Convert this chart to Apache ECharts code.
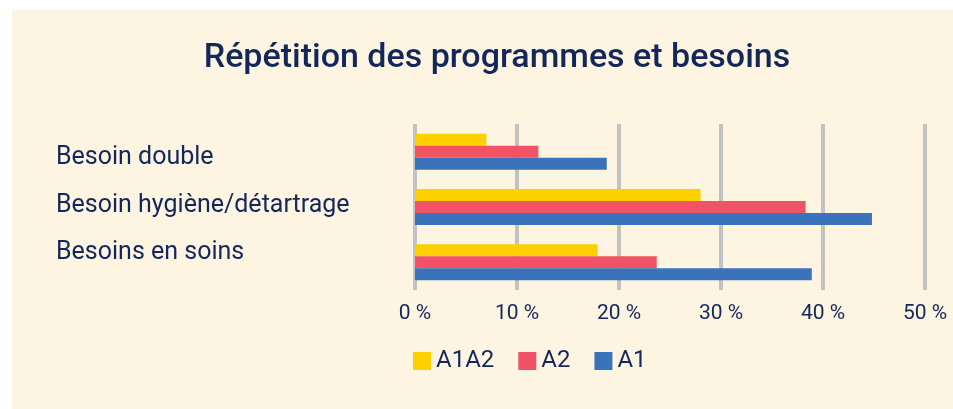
<!DOCTYPE html>
<html lang="fr">
<head>
    <meta charset="utf-8">
    <title>Répétition des programmes et besoins</title>
    <script src="https://cdn.jsdelivr.net/npm/echarts@6/dist/echarts.min.js"></script>
</head>
<body style="margin:0;background:#ffffff;">
    <div id="main" style="position:absolute;left:12px;top:10px;width:941px;height:399px;"></div>
    <script>
        // données (%)
        const categories = ['Besoin double', 'Besoin hygiène/détartrage', 'Besoins en soins'];
        const serieA1A2 = [7.0, 28.0, 17.9];
        const serieA2 = [12.1, 38.3, 23.7];
        const serieA1 = [18.8, 44.8, 38.9];
        const xTicks = [0, 10, 20, 30, 40, 50];

        const navy = '#13275a';
        const font = 'Roboto';

        const chart = echarts.init(document.getElementById('main'));

        const option = {
            backgroundColor: '#fef4e2',
            textStyle: { fontFamily: font },
            title: {
                text: 'Répétition des programmes et besoins',
                left: 480,
                textAlign: 'center',
                top: 26,
                textStyle: { color: navy, fontSize: 34, fontWeight: 500, fontFamily: font }
            },
            legend: {
                data: ['A1A2', 'A2', 'A1'],
                left: 396,
                top: 334,
                icon: 'rect',
                itemWidth: 18,
                itemHeight: 18,
                itemGap: 24,
                textStyle: { color: navy, fontSize: 24 }
            },
            grid: [
                { left: 403, right: 28, top: 114, bottom: 119 },
                // grille pour les libellés de catégories
                { left: 403, right: 28, top: 124, bottom: 132 }
            ],
            xAxis: [
                {
                    gridIndex: 0,
                    type: 'value',
                    min: xTicks[0],
                    max: xTicks[xTicks.length - 1],
                    interval: 10,
                    axisLine: { show: false },
                    axisTick: { show: false },
                    splitLine: { lineStyle: { color: '#c2c2c2', width: 4 } },
                    axisLabel: {
                        formatter: '{value} %',
                        color: navy,
                        fontSize: 21,
                        margin: 13
                    }
                },
                {
                    gridIndex: 1,
                    type: 'value',
                    show: false
                }
            ],
            yAxis: [
                {
                    gridIndex: 0,
                    type: 'category',
                    data: categories,
                    inverse: true,
                    axisLine: { show: false },
                    axisTick: { show: false },
                    axisLabel: { show: false }
                },
                {
                    gridIndex: 1,
                    type: 'category',
                    data: categories,
                    inverse: true,
                    axisLine: { show: false },
                    axisTick: { show: false },
                    axisLabel: {
                        align: 'left',
                        margin: 359,
                        color: navy,
                        fontSize: 25
                    }
                }
            ],
            series: [
                {
                    name: 'A1A2',
                    type: 'bar',
                    data: serieA1A2,
                    barWidth: 12,
                    barGap: '0%',
                    itemStyle: { color: '#ffd000' }
                },
                {
                    name: 'A2',
                    type: 'bar',
                    data: serieA2,
                    barWidth: 12,
                    barGap: '0%',
                    itemStyle: { color: '#f05366' }
                },
                {
                    name: 'A1',
                    type: 'bar',
                    data: serieA1,
                    barWidth: 12,
                    barGap: '0%',
                    itemStyle: { color: '#3a73ba' }
                }
            ]
        };

        chart.setOption(option);
    </script>
</body>
</html>
